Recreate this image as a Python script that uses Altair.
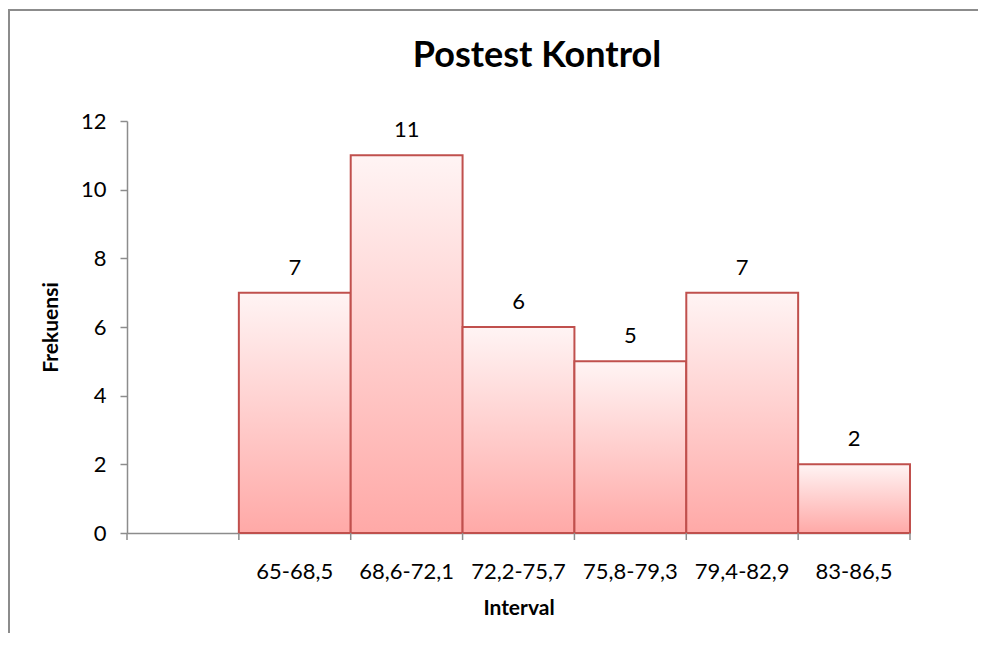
import altair as alt
import pandas as pd

categories = [" ", "65-68,5", "68,6-72,1", "72,2-75,7", "75,8-79,3", "79,4-82,9", "83-86,5"]
bar_categories = ["65-68,5", "68,6-72,1", "72,2-75,7", "75,8-79,3", "79,4-82,9", "83-86,5"]
frequencies = [7, 11, 6, 5, 7, 2]
y_ticks = [0, 2, 4, 6, 8, 10, 12]
chart_title = ["Postest Kontrol"]

FONT = "Lato"
GRAY = "#8c8c8c"

bars_df = pd.DataFrame({"cat": bar_categories, "v": frequencies})
ticks_df = pd.DataFrame({"cat": categories})
end_df = pd.DataFrame({"cat": [categories[-1]]})
title_df = pd.DataFrame({"t": chart_title})

xscale = alt.Scale(domain=categories, paddingInner=0, paddingOuter=0)

x_enc = alt.X(
    "cat:N", sort=categories, scale=xscale,
    axis=alt.Axis(title="Interval", ticks=False, domainColor=GRAY, domainWidth=1.5,
                  labelAngle=0, labelFont=FONT, labelFontSize=22, labelColor="black",
                  labelPadding=28, titleFont=FONT, titleFontSize=21, titleFontWeight="bold",
                  titleColor="black", titlePadding=15),
)
y_enc = alt.Y(
    "v:Q", scale=alt.Scale(domain=[0, 12]),
    axis=alt.Axis(title="Frekuensi", values=y_ticks, grid=False, tickSize=7, tickColor=GRAY,
                  tickWidth=1.5, domainColor=GRAY, domainWidth=1.5, labelFont=FONT,
                  labelFontSize=22, labelColor="black", labelPadding=14, titleFont=FONT,
                  titleFontSize=21, titleFontWeight="bold", titleColor="black", titlePadding=19),
)

gradient = {
    "gradient": "linear", "x1": 0, "y1": 0, "x2": 0, "y2": 1,
    "stops": [
        {"offset": 0, "color": "#fff4f4"},
        {"offset": 1, "color": "#ffa9a7"},
    ],
}

bars = alt.Chart(bars_df).mark_bar(
    fill=gradient, stroke="#c0504d", strokeWidth=2
).encode(x=x_enc, y=y_enc)

labels = alt.Chart(bars_df).mark_text(
    baseline="alphabetic", dy=-18, font=FONT, fontSize=22, color="black"
).encode(x=alt.X("cat:N", sort=categories, scale=xscale), y="v:Q", text="v:Q")

xticks = alt.Chart(ticks_df).mark_rule(color=GRAY, strokeWidth=1.5).encode(
    x=alt.X("cat:N", sort=categories, scale=xscale, bandPosition=0),
    y=alt.value(412), y2=alt.value(419),
)
xtick_end = alt.Chart(end_df).mark_rule(color=GRAY, strokeWidth=1.5).encode(
    x=alt.X("cat:N", sort=categories, scale=xscale, bandPosition=1),
    y=alt.value(412), y2=alt.value(419),
)

title_mark = alt.Chart(title_df).mark_text(
    font=FONT, fontSize=36, fontWeight="bold", color="black",
    align="center", baseline="alphabetic"
).encode(x=alt.value(410), y=alt.value(-54), text="t:N")

one = pd.DataFrame({"k": [0]})
frame_top = alt.Chart(one).mark_rule(color=GRAY, strokeWidth=2).encode(
    x=alt.value(-119), x2=alt.value(880), y=alt.value(-111)
)
frame_left = alt.Chart(one).mark_rule(color=GRAY, strokeWidth=2).encode(
    x=alt.value(-118), y=alt.value(-112), y2=alt.value(520)
)

chart = alt.layer(bars, labels, xticks, xtick_end, title_mark, frame_top, frame_left).properties(
    width=783, height=412,
    padding={"left": 119, "top": 113, "right": 68, "bottom": 100},
    autosize=alt.AutoSizeParams(type="none"),
).configure_view(stroke=None)

chart.save("out.html", embed_options={"renderer": "svg", "actions": False})
